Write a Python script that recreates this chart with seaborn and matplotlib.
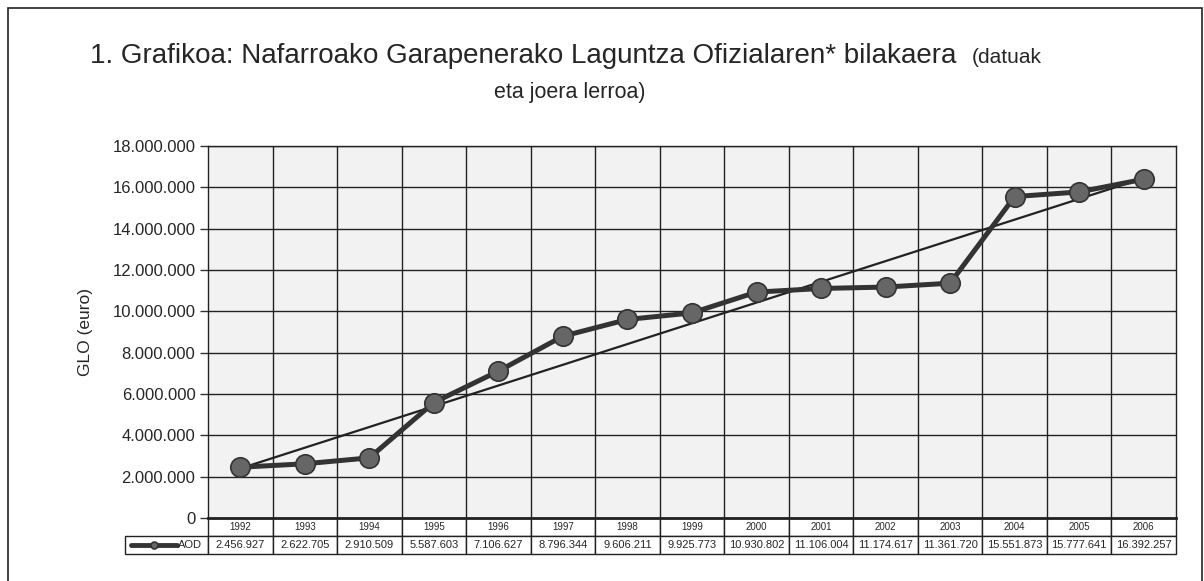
import numpy as np
import pandas as pd
import matplotlib
matplotlib.use("Agg")
import matplotlib.pyplot as plt
import seaborn as sns
from matplotlib.patches import Rectangle
from matplotlib.ticker import FuncFormatter

# Data
years = ["1992", "1993", "1994", "1995", "1996", "1997", "1998", "1999",
         "2000", "2001", "2002", "2003", "2004", "2005", "2006"]
aod = [2456927, 2622705, 2910509, 5587603, 7106627, 8796344, 9606211, 9925773,
       10930802, 11106004, 11174617, 11361720, 15551873, 15777641, 16392257]
series_name = "AOD"
y_ticks = list(range(0, 18000001, 2000000))

def dots(v, pos=None):
    return f"{int(v):,}".replace(",", ".")

data = pd.DataFrame({"year": years, "pos": range(len(years)), "aod": aod})

sns.set_style("white")
plt.rcParams["font.family"] = ["Liberation Sans", "DejaVu Sans"]

W, H = 1204, 581
fig = plt.figure(figsize=(W / 100, H / 100), dpi=100)
ax_l, ax_r, ax_t, ax_b = 208, 1176, 146, 518
ax = fig.add_axes([ax_l / W, 1 - ax_b / H, (ax_r - ax_l) / W, (ax_b - ax_t) / H])
ax.set_facecolor("#f2f2f2")

# data line
sns.lineplot(data=data, x="pos", y="aod", ax=ax, color="#333333", linewidth=3.6,
             marker="o", markersize=14, markerfacecolor="#666666",
             markeredgecolor="#333333", markeredgewidth=1.2, label=series_name,
             zorder=4)

# linear trend line
coef = np.polyfit(data["pos"], data["aod"], 1)
ax.plot(data["pos"], np.polyval(coef, data["pos"]), color="#222222",
        linewidth=1.6, zorder=3)

ax.set_xlim(-0.5, len(years) - 0.5)
ax.set_ylim(0, 18000000)
ax.set_yticks(y_ticks)
ax.yaxis.set_major_formatter(FuncFormatter(dots))
ax.set_xticks([])
ax.set_xlabel("")
ax.set_ylabel("GLO (euro)", fontsize=12.5, labelpad=14)
ax.tick_params(axis="y", labelsize=12, length=6, width=1, color="#333333",
               left=True, pad=3)

# grid
for yv in y_ticks[1:]:
    ax.axhline(yv, color="#222222", linewidth=1, zorder=1)
for i in range(1, len(years)):
    ax.axvline(i - 0.5, color="#222222", linewidth=1, zorder=1)
for s in ax.spines.values():
    s.set_color("#222222")
    s.set_linewidth(1)
ax.spines["bottom"].set_linewidth(2)

# data table under the axes
axw, axh = ax_r - ax_l, ax_b - ax_t
lab_w = 83
tbl = ax.table(cellText=[[""] + years, [""] + [dots(v) for v in aod]],
               colWidths=[lab_w / axw] + [1 / len(years)] * len(years),
               cellLoc="center",
               bbox=[-lab_w / axw, -36 / axh, 1 + lab_w / axw, 36 / axh])
tbl.auto_set_font_size(False)
for (r, c), cell in tbl.get_celld().items():
    cell.set_edgecolor("#222222")
    cell.set_linewidth(1)
    cell.set_facecolor("white")
    cell.get_text().set_fontsize(7 if r == 0 else 8)
tbl[0, 0].visible_edges = ""
tbl[0, 0].set_facecolor("none")

leg = ax.legend(loc="center", bbox_to_anchor=(-lab_w / 2 / axw, -27.5 / axh),
                frameon=False, fontsize=8, handlelength=4.2, handletextpad=0.1,
                borderpad=0, borderaxespad=0)
for h in leg.legend_handles:
    h.set_markersize(5)
    h.set_linewidth(3.5)

# titles
fig.text(90 / W, 1 - 63 / H, "1. Grafikoa: Nafarroako Garapenerako Laguntza Ofizialaren* bilakaera",
         fontsize=20, va="baseline", ha="left")
fig.text(972 / W, 1 - 63 / H, "(datuak", fontsize=15, va="baseline", ha="left")
fig.text(570 / W, 1 - 98 / H, "eta joera lerroa)", fontsize=15.5, va="baseline", ha="center")

# outer frame
fig.patches.append(Rectangle((8 / W, -0.05), (W - 10) / W, 1 - 8 / H + 0.05,
                             transform=fig.transFigure, fill=False,
                             edgecolor="#222222", linewidth=1.2))

fig.savefig("out.png", dpi=100)
